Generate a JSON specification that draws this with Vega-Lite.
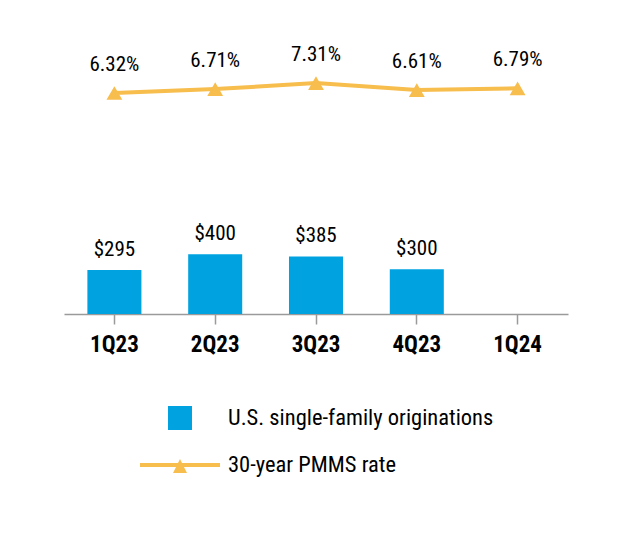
{
  "$schema": "https://vega.github.io/schema/vega-lite/v6.json",
  "width": 504,
  "height": 314,
  "autosize": {"type": "none"},
  "padding": {"left": 64, "top": 0, "right": 64, "bottom": 232},
  "background": "white",
  "config": {"view": {"stroke": null}},
  "data": {
    "values": [
      {"quarter": "1Q23", "orig": 295, "rate": 0.0632, "s1": "U.S. single-family originations", "s2": "30-year PMMS rate"},
      {"quarter": "2Q23", "orig": 400, "rate": 0.0671, "s1": "U.S. single-family originations", "s2": "30-year PMMS rate"},
      {"quarter": "3Q23", "orig": 385, "rate": 0.0731, "s1": "U.S. single-family originations", "s2": "30-year PMMS rate"},
      {"quarter": "4Q23", "orig": 300, "rate": 0.0661, "s1": "U.S. single-family originations", "s2": "30-year PMMS rate"},
      {"quarter": "1Q24", "orig": null, "rate": 0.0679, "s1": "U.S. single-family originations", "s2": "30-year PMMS rate"}
    ]
  },
  "encoding": {
    "x": {
      "field": "quarter",
      "type": "nominal",
      "sort": null,
      "scale": {"paddingInner": 0.464, "paddingOuter": 0.232},
      "axis": {
        "title": null,
        "labelAngle": 0,
        "labelFont": "Roboto Condensed, DejaVu Sans Condensed",
        "labelFontWeight": "bold",
        "labelFontSize": 23,
        "labelColor": "#000000",
        "labelPadding": 9,
        "domainColor": "#9a9a9a",
        "domainWidth": 1.5,
        "tickColor": "#9a9a9a",
        "tickWidth": 1.5,
        "tickSize": 10,
        "grid": false
      }
    }
  },
  "layer": [
    {
      "transform": [{"filter": "datum.orig != null"}],
      "encoding": {
        "y": {"field": "orig", "type": "quantitative", "scale": {"domain": [0, 2100]}, "axis": null}
      },
      "layer": [
        {
          "mark": {"type": "bar"},
          "encoding": {
            "fill": {
              "field": "s1",
              "type": "nominal",
              "scale": {"range": ["#00A3E0"]},
              "legend": {
                "title": null,
                "orient": "none",
                "legendX": 104,
                "legendY": 406,
                "padding": 0,
                "symbolType": "square",
                "symbolSize": 576,
                "symbolStrokeWidth": 0,
                "labelFont": "Roboto Condensed, Liberation Sans",
                "labelFontSize": 22.5,
                "labelColor": "#000000",
                "labelOffset": 36,
                "labelLimit": 400
              }
            }
          }
        },
        {
          "mark": {"type": "text", "baseline": "alphabetic", "dy": -14, "font": "Roboto Condensed, Liberation Sans", "fontSize": 21, "color": "#000000"},
          "encoding": {"text": {"field": "orig", "type": "quantitative", "format": "$.0f"}}
        }
      ]
    },
    {
      "encoding": {
        "y": {"field": "rate", "type": "quantitative", "scale": {"domain": [-0.1578, 0.1562], "zero": false}, "axis": null}
      },
      "layer": [
        {
          "mark": {"type": "line", "strokeWidth": 4},
          "encoding": {
            "stroke": {
              "field": "s2",
              "type": "nominal",
              "scale": {"range": ["#F7BD4D"]},
              "legend": {
                "title": null,
                "orient": "none",
                "legendX": 76,
                "legendY": 425,
                "padding": 0,
                "symbolType": "M-1,-0.05L1,-0.05L1,0.05L-1,0.05ZM0,-0.15L0.175,0.2L-0.175,0.2Z",
                "symbolSize": 6400,
                "symbolFillColor": "#F7BD4D",
                "symbolStrokeWidth": 0,
                "labelFont": "Roboto Condensed, Liberation Sans",
                "labelFontSize": 22.5,
                "labelColor": "#000000",
                "labelOffset": 8,
                "labelLimit": 400,
                "encode": {"symbols": {"update": {"fill": {"value": "#F7BD4D"}, "strokeWidth": {"value": 0}}}}
              }
            }
          }
        },
        {
          "mark": {"type": "point", "shape": "triangle-up", "filled": true, "size": 250, "color": "#F7BD4D", "opacity": 1}
        },
        {
          "mark": {"type": "text", "baseline": "alphabetic", "dy": -22, "font": "Roboto Condensed, Liberation Sans", "fontSize": 21, "color": "#000000"},
          "encoding": {"text": {"field": "rate", "type": "quantitative", "format": ".2%"}}
        }
      ]
    }
  ],
  "resolve": {"scale": {"y": "independent"}}
}
